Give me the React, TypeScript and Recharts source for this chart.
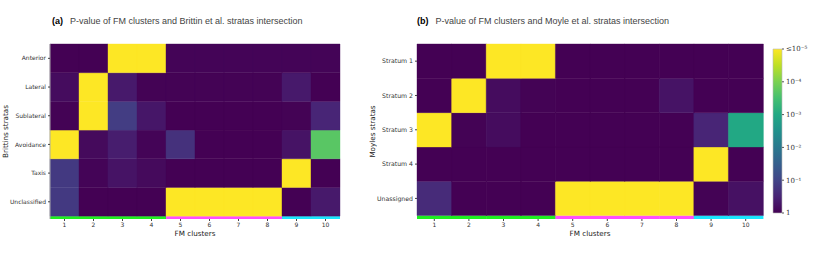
import React from 'react';
import { Bar, BarChart, Cell, XAxis, YAxis } from 'recharts';

// FM clusters on the x axis
const clusters = ['1', '2', '3', '4', '5', '6', '7', '8', '9', '10'];
const clusterGroup = ['g', 'g', 'g', 'g', 'm', 'm', 'm', 'm', 'c', 'c'];

// Brittin et al. strata (top to bottom), p-values per cluster
const brittinRows = ['Anterior', 'Lateral', 'Sublateral', 'Avoidance', 'Taxis', 'Unclassified'];
const anteriorP = [1, 1, 1e-6, 1e-6, 0.9, 0.9, 0.9, 0.9, 0.9, 0.9];
const lateralP = [0.7, 1e-6, 0.45, 0.95, 0.95, 0.95, 0.95, 0.95, 0.45, 1];
const sublateralP = [0.95, 1e-6, 0.13, 0.5, 1, 1, 1, 1, 0.95, 0.3];
const avoidanceP = [1e-6, 0.75, 0.4, 0.9, 0.2, 1, 1, 1, 0.55, 2e-4];
const taxisP = [0.15, 0.9, 0.55, 0.75, 1, 1, 1, 1, 1e-6, 1];
const unclassifiedP = [0.15, 1, 1, 1, 1e-6, 1e-6, 1e-6, 1e-6, 1, 0.45];

// Moyle et al. strata (top to bottom)
const moyleRows = ['Stratum 1', 'Stratum 2', 'Stratum 3', 'Stratum 4', 'Unassigned'];
const stratum1P = [1, 1, 1e-6, 1e-6, 1, 1, 1, 1, 1, 1];
const stratum2P = [1, 1e-6, 0.7, 0.95, 1, 1, 1, 0.55, 1, 1];
const stratum3P = [1e-6, 0.95, 0.7, 1, 1, 1, 1, 1, 0.3, 1e-3];
const stratum4P = [1, 1, 1, 1, 1, 1, 1, 1, 1e-6, 1];
const unassignedP = [0.25, 1, 1, 1, 1e-6, 1e-6, 1e-6, 1e-6, 0.95, 0.6];

// colorbar ticks (-log10 p)
const cbTicks = [0, 1, 2, 3, 4, 5];
const cbLabels = ['1', '10⁻¹', '10⁻²', '10⁻³', '10⁻⁴', '≤10⁻⁵'];

const VIRIDIS = [
  '#440154', '#482475', '#414487', '#355f8d', '#2a788e', '#21918c',
  '#22a884', '#44bf70', '#7ad151', '#bddf26', '#fde725',
];
const GROUP_COLOR: Record<string, string> = { g: '#1ff01f', m: '#ff4dff', c: '#1ae8ff' };
const STRIP = 0.1;

const hex = (h: string) => [1, 3, 5].map((i) => parseInt(h.slice(i, i + 2), 16));

const viridis = (t: number) => {
  const x = Math.min(1, Math.max(0, t)) * (VIRIDIS.length - 1);
  const i = Math.min(VIRIDIS.length - 2, Math.floor(x));
  const f = x - i;
  const a = hex(VIRIDIS[i]);
  const b = hex(VIRIDIS[i + 1]);
  const c = a.map((v, k) => Math.round(v + (b[k] - v) * f));
  return `rgb(${c[0]},${c[1]},${c[2]})`;
};

const pColor = (p: number) => viridis(-Math.log10(p) / 5);

const makeTick = (fmt: (v: number) => string, size: number, anchor: 'start' | 'end', family = 'DejaVu Sans') =>
  (props: any) => {
    const { x, y, payload } = props;
    return (
      <text x={x} y={y} dy="0.35em" textAnchor={anchor} fontSize={size} fill="#333" fontFamily={family}>
        {fmt(payload.value)}
      </text>
    );
  };

interface HeatProps {
  rows: string[];
  pvals: number[][];
  ylabel: string;
  width: number;
  yAxisWidth: number;
  rightMargin: number;
  labelOffset: number;
  tickSize: number;
  frame?: boolean;
}

const Heatmap = ({ rows, pvals, ylabel, width, yAxisWidth, rightMargin, labelOffset, tickSize, frame }: HeatProps) => {
  const n = rows.length;
  const data = clusters.map((c) => {
    const d: Record<string, number | string> = { cluster: c, strip: STRIP };
    rows.forEach((_, r) => (d[`r${r}`] = 1));
    return d;
  });
  // bottom row first in the stack
  const order = rows.map((_, r) => n - 1 - r);
  const ticks = order.map((_, k) => STRIP + k + 0.5);
  const rowName = (v: number) => rows[n - 1 - Math.round(v - STRIP - 0.5)];

  return (
    <BarChart
      width={width}
      height={255}
      data={data}
      barCategoryGap={0}
      margin={{ top: 44, right: rightMargin, left: 0, bottom: 16 }}
    >
      <XAxis
        dataKey="cluster"
        axisLine={false}
        tickLine={{ stroke: '#444' }}
        tickSize={2}
        height={20}
        tick={{ fontSize: 6, fill: '#333', fontFamily: 'DejaVu Sans' }}
        label={{ value: 'FM clusters', position: 'insideBottom', offset: 3, fontSize: 7.2, fill: '#222', fontFamily: 'DejaVu Sans' }}
      />
      <YAxis
        type="number"
        domain={[0, n + STRIP]}
        ticks={ticks}
        width={yAxisWidth}
        tickSize={2}
        axisLine={frame ? { stroke: '#aaa' } : false}
        tickLine={{ stroke: '#444' }}
        tick={makeTick(rowName, tickSize, 'end')}
        label={{
          value: ylabel,
          angle: -90,
          position: 'insideLeft',
          offset: labelOffset,
          style: { textAnchor: 'middle' },
          fontSize: 7.2,
          fill: '#222',
          fontFamily: 'DejaVu Sans',
        }}
      />
      {frame && <YAxis yAxisId="r" orientation="right" width={0} tick={false} axisLine={{ stroke: '#aaa' }} />}
      <Bar dataKey="strip" stackId="s" isAnimationActive={false}>
        {clusters.map((c, i) => (
          <Cell key={c} fill={GROUP_COLOR[clusterGroup[i]]} />
        ))}
      </Bar>
      {order.map((r) => (
        <Bar key={r} dataKey={`r${r}`} stackId="s" isAnimationActive={false}>
          {clusters.map((c, i) => (
            <Cell key={c} fill={pColor(pvals[r][i])} stroke={pColor(pvals[r][i])} strokeWidth={0.4} />
          ))}
        </Bar>
      ))}
    </BarChart>
  );
};

const ColorBar = () => (
  <BarChart width={65} height={255} data={[{ k: 'cb', v: 5 }]} barCategoryGap={0} margin={{ top: 49, right: 0, left: 8, bottom: 42 }}>
    <defs>
      <linearGradient id="vir" x1="0" y1="1" x2="0" y2="0">
        {VIRIDIS.map((c, i) => (
          <stop key={c} offset={i / (VIRIDIS.length - 1)} stopColor={c} />
        ))}
      </linearGradient>
    </defs>
    <XAxis dataKey="k" hide />
    <YAxis
      orientation="right"
      type="number"
      domain={[0, 5]}
      ticks={cbTicks}
      width={48}
      tickSize={2}
      axisLine={false}
      tickLine={{ stroke: '#555' }}
      tick={makeTick((v) => cbLabels[v], 7, 'start', 'DejaVu Serif')}
    />
    <Bar dataKey="v" fill="url(#vir)" stroke="#bbb" strokeWidth={0.6} isAnimationActive={false} />
  </BarChart>
);

const titleStyle: React.CSSProperties = {
  position: 'absolute',
  top: 16,
  fontFamily: '"Liberation Sans", Arial, sans-serif',
  fontSize: 9,
  lineHeight: '11px',
  color: '#444',
  whiteSpace: 'nowrap',
};

export default function App() {
  return (
    <div style={{ position: 'relative', width: 830, height: 255, background: '#fff', overflow: 'hidden' }}>
      <style>{'body{margin:0}'}</style>
      <div style={{ ...titleStyle, left: 52 }}>
        <b style={{ color: '#000', marginRight: 7 }}>(a)</b>P-value of FM clusters and Brittin et al. stratas intersection
      </div>
      <div style={{ ...titleStyle, left: 417 }}>
        <b style={{ color: '#000', marginRight: 7 }}>(b)</b>P-value of FM clusters and Moyle et al. stratas intersection
      </div>
      <div style={{ position: 'absolute', left: 0, top: 0 }}>
        <Heatmap
          rows={brittinRows}
          pvals={[anteriorP, lateralP, sublateralP, avoidanceP, taxisP, unclassifiedP]}
          ylabel="Brittins stratas"
          width={360}
          yAxisWidth={50}
          rightMargin={20}
          labelOffset={5}
          tickSize={6}
          frame
        />
      </div>
      <div style={{ position: 'absolute', left: 360, top: 0 }}>
        <Heatmap
          rows={moyleRows}
          pvals={[stratum1P, stratum2P, stratum3P, stratum4P, unassignedP]}
          ylabel="Moyles stratas"
          width={420}
          yAxisWidth={57}
          rightMargin={17}
          labelOffset={12}
          tickSize={6.2}
        />
      </div>
      <div style={{ position: 'absolute', left: 765, top: 0 }}>
        <ColorBar />
      </div>
    </div>
  );
}
